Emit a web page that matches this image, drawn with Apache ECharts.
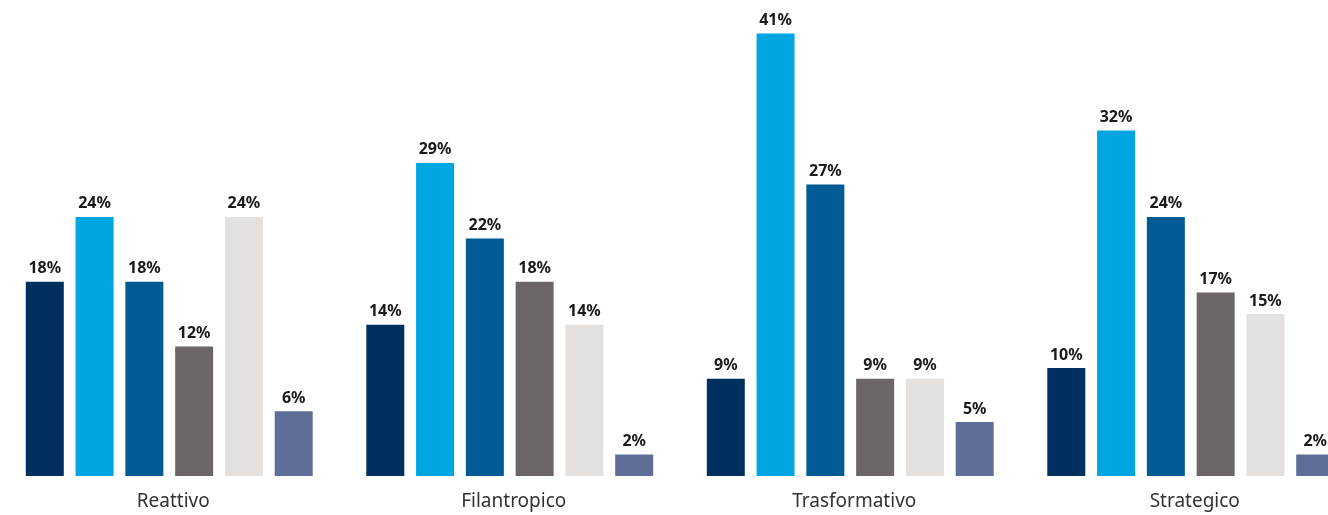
<!DOCTYPE html>
<html>
<head>
<meta charset="utf-8">
<script src="https://cdn.jsdelivr.net/npm/echarts@6/dist/echarts.min.js"></script>
<style>
  html, body { margin: 0; padding: 0; background: #ffffff; }
  #chart { width: 1328px; height: 515px; }
</style>
</head>
<body>
<div id="chart"></div>
<script>
// Approaches (categories) and the share of each of six groups within them
const categories = ['Reattivo', 'Filantropico', 'Trasformativo', 'Strategico'];
const series1 = [18, 14, 9, 10];
const series2 = [24, 29, 41, 32];
const series3 = [18, 22, 27, 24];
const series4 = [12, 18, 9, 17];
const series5 = [24, 14, 9, 15];
const series6 = [6, 2, 5, 2];

const allSeries = [series1, series2, series3, series4, series5, series6];
const colors = ['#00305f', '#00a6e2', '#005a93', '#6c666a', '#e3e0dd', '#5e6e98'];

const chart = echarts.init(document.getElementById('chart'));

chart.setOption({
  animation: false,
  backgroundColor: '#ffffff',
  grid: {
    left: -1, width: 1362, top: 1, bottom: 39,
    containLabel: false,
    outerBoundsMode: 'none'
  },
  xAxis: {
    type: 'category',
    data: categories,
    axisLine: { show: false },
    axisTick: { show: false },
    axisLabel: {
      color: '#333333',
      fontFamily: 'Noto Sans',
      fontSize: 19,
      margin: 16,
      padding: [0, 0, 0, 8]
    }
  },
  yAxis: {
    type: 'value',
    min: 0,
    max: 44,
    show: false,
    splitLine: { show: false }
  },
  series: allSeries.map((values, i) => ({
    type: 'bar',
    data: values,
    barWidth: 38,
    barGap: '31%',
    itemStyle: { color: colors[i] },
    label: {
      show: true,
      position: 'top',
      distance: 5,
      formatter: '{c}%',
      color: '#1a1a1a',
      fontFamily: 'Noto Sans',
      fontWeight: 'bold',
      fontSize: 16
    }
  }))
});
</script>
</body>
</html>
